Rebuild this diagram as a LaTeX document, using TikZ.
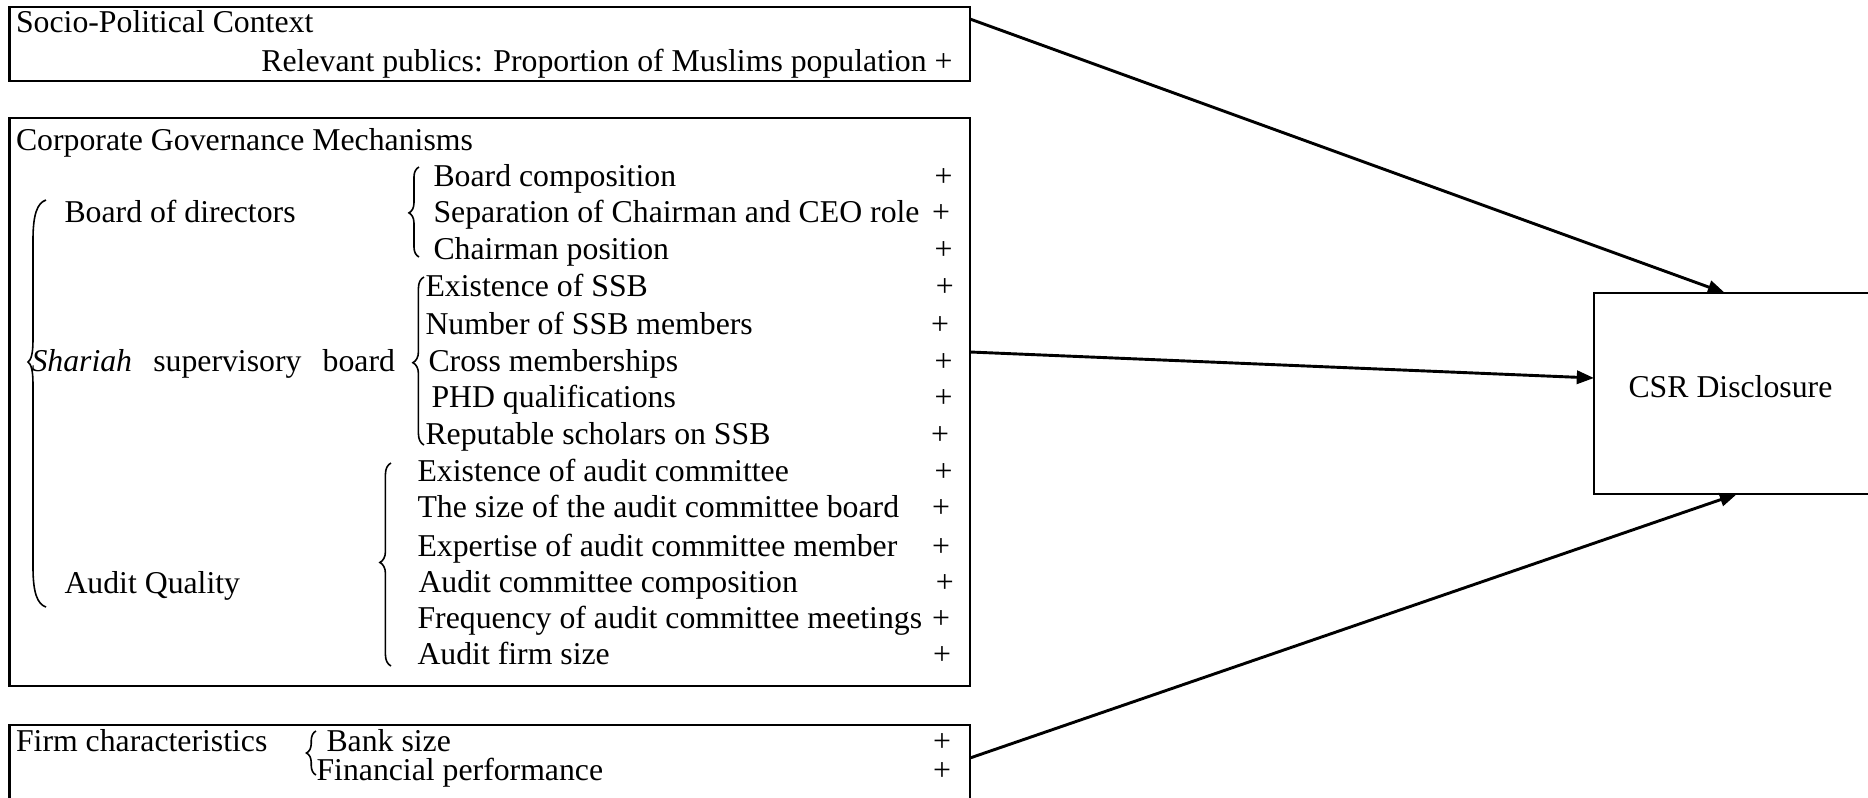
\documentclass[tikz,border=0pt]{standalone}
\usepackage{fontspec}
\setmainfont{Liberation Serif}
\usetikzlibrary{arrows.meta,decorations.pathreplacing,fit}
\begin{document}
\begin{tikzpicture}[x=0.3778pt,y=-0.3778pt,
  box/.style={draw,line width=1pt,inner sep=0pt,outer sep=0pt},
  txt/.style={anchor=base west,inner sep=0pt,font=\fontsize{12}{14}\selectfont},
  pl/.style={anchor=base,inner sep=0pt,font=\fontsize{12}{14}\selectfont},
  arr/.style={line width=1.1pt,-{Triangle[length=6.5pt,width=5pt]}},
  brc/.style={decorate,line width=0.6pt,decoration={brace,amplitude=#1}},
  bigbrc/.style={line width=0.6pt}]
\useasboundingbox (0,0) rectangle (1868,797);
\clip (0,0) rectangle (1868,797);
% boxes
\coordinate (sTL) at (9.5,7);   \coordinate (sBR) at (970,81);
\coordinate (gTL) at (9.5,118); \coordinate (gBR) at (970,686);
\coordinate (fTL) at (9.5,725); \coordinate (fBR) at (970,840);
\coordinate (cTL) at (1594,293); \coordinate (cBR) at (1920,494);
\node[box,fit=(sTL)(sBR)] (socio) {};
\node[box,fit=(gTL)(gBR)] (cg) {};
\node[box,fit=(fTL)(fBR)] (firm) {};
\node[box,fit=(cTL)(cBR)] (csr) {};
% texts
\node[txt] (t1) at (15.5,32) {Socio-Political Context};
\node[txt,anchor=base east] (t2) at (953,71) {Relevant publics: Proportion of Muslims population +};
\node[txt] (t3) at (15.5,150) {Corporate Governance Mechanisms};
\node[txt] (bod) at (64,222) {Board of directors};
\node[txt] (ssb) at (31,371) {\textit{Shariah}\hspace{5pt} supervisory\hspace{5pt} board};
\node[txt] (aq) at (64,593) {Audit Quality};
\node[txt] (r1) at (433,186) {Board composition};
\node[txt] (r2) at (433,222) {Separation of Chairman and CEO role};
\node[txt] (r3) at (433,259) {Chairman position};
\node[txt] (r4) at (425,296) {Existence of SSB};
\node[txt] (r5) at (425,334) {Number of SSB members};
\node[txt] (r6) at (428,371) {Cross memberships};
\node[txt] (r7) at (431,407) {PHD qualifications};
\node[txt] (r8) at (425,444) {Reputable scholars on SSB};
\node[txt] (r9) at (417,481) {Existence of audit committee};
\node[txt] (r10) at (417,517) {The size of the audit committee board};
\node[txt] (r11) at (417,556) {Expertise of audit committee member};
\node[txt] (r12) at (418,592) {Audit committee composition};
\node[txt] (r13) at (417,628) {Frequency of audit committee meetings};
\node[txt] (r14) at (417,664) {Audit firm size};
\node[txt] (fc) at (15.5,751) {Firm characteristics};
\node[txt] (f1) at (326,751) {Bank size};
\node[txt] (f2) at (316,780) {Financial performance};
\node[txt] (csrt) at (1628,397) {CSR Disclosure};
% plus signs
\node[pl] (p1) at (943.5,186) {+};
\node[pl] (p2) at (941,222) {+};
\node[pl] (p3) at (943.5,259) {+};
\node[pl] (p4) at (944.7,296) {+};
\node[pl] (p5) at (940,334) {+};
\node[pl] (p6) at (943.5,371) {+};
\node[pl] (p7) at (943.5,407) {+};
\node[pl] (p8) at (940,444) {+};
\node[pl] (p9) at (943.5,481) {+};
\node[pl] (p10) at (941,517) {+};
\node[pl] (p11) at (941,556) {+};
\node[pl] (p12) at (944.7,592) {+};
\node[pl] (p13) at (941,628) {+};
\node[pl] (p14) at (942,664) {+};
\node[pl] (p15) at (942,751) {+};
\node[pl] (p16) at (942,780) {+};
% braces
\draw[brc=3.8pt,decoration={aspect=0.49}] (419,257) -- (419,167);
\draw[brc=4.2pt,decoration={aspect=0.49}] (424,445) -- (424,277);
\draw[brc=4.2pt,decoration={aspect=0.51}] (391,666) -- (391,463);
\draw[brc=3.6pt,decoration={aspect=0.5}] (316,775) -- (316,731);
\draw[bigbrc] (46,200) .. controls (37,203) and (33,215) .. (33,240) -- (33,340)
  .. controls (33,354) and (31,360) .. (28,362) .. controls (31,364) and (33,370) .. (33,384)
  -- (33,567) .. controls (33,592) and (37,604) .. (46,607);
% arrows
\coordinate (a1s) at (970,19);  \coordinate (a1e) at (1725,293);
\coordinate (a2s) at (970,352); \coordinate (a2e) at (1594,378);
\coordinate (a3s) at (970,758); \coordinate (a3e) at (1737,494);
\draw[arr] (a1s) -- (a1e);
\draw[arr] (a2s) -- (a2e);
\draw[arr] (a3s) -- (a3e);
\end{tikzpicture}
\end{document}
